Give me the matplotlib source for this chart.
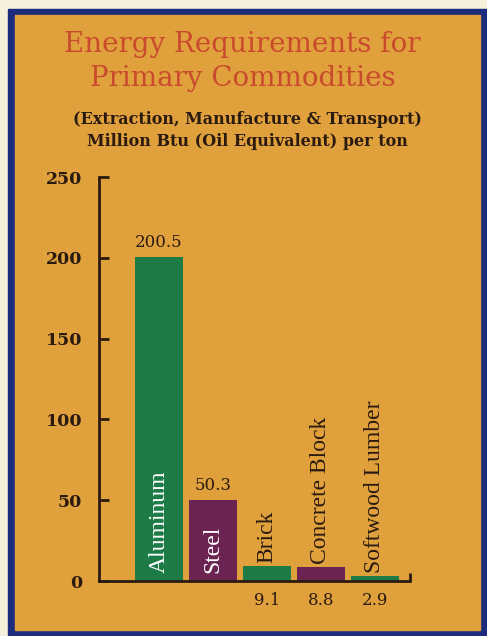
import matplotlib
matplotlib.use("Agg")
import matplotlib.pyplot as plt
from matplotlib.patches import Rectangle

# data
commodities = ["Aluminum", "Steel", "Brick", "Concrete Block", "Softwood Lumber"]
energy = [200.5, 50.3, 9.1, 8.8, 2.9]
bar_colors = ["#1d7b45", "#6b2352", "#1d7b45", "#6b2352", "#1d7b45"]
y_ticks = [0, 50, 100, 150, 200, 250]

ORANGE = "#e0a13c"
BLUE = "#1c2b7c"
CREAM = "#f4f0dc"
TITLE_RED = "#c94a2c"
INK = "#2a1a10"


def main():
    fig = plt.figure(figsize=(4.87, 6.36), dpi=100, facecolor=CREAM)
    W, H = 487, 636

    # blue frame and orange panel (pixel values converted to figure fractions)
    fig.patches.append(Rectangle((8 / W, 1 - 636 / H), 479 / W, 627 / H,
                                 transform=fig.transFigure, color=BLUE, zorder=-10))
    fig.patches.append(Rectangle((15 / W, 1 - 630 / H), 465 / W, 615 / H,
                                 transform=fig.transFigure, color=ORANGE, zorder=-9))

    fig.text(0.498, 1 - 44 / H, "Energy Requirements for", ha="center", va="center",
             fontsize=20, color=TITLE_RED, family="DejaVu Serif")
    fig.text(0.498, 1 - 79 / H, "Primary Commodities", ha="center", va="center",
             fontsize=20, color=TITLE_RED, family="DejaVu Serif")
    fig.text(0.508, 1 - 119 / H, "(Extraction, Manufacture & Transport)", ha="center",
             va="center", fontsize=11.5, color=INK, family="DejaVu Serif", weight="bold")
    fig.text(0.508, 1 - 141 / H, "Million Btu (Oil Equivalent) per ton", ha="center",
             va="center", fontsize=11.5, color=INK, family="DejaVu Serif", weight="bold")

    ax = fig.add_axes([99 / W, 1 - 581 / H, 311 / W, 404 / H])
    ax.set_facecolor("none")

    x = list(range(len(commodities)))
    ax.bar(x, energy, width=0.89, color=bar_colors, zorder=2)
    ax.set_xlim(-1.11, 311 / 54 - 1.11)
    ax.set_ylim(0, 250)

    for spine in ["top", "right"]:
        ax.spines[spine].set_visible(False)
    for spine in ["left", "bottom"]:
        ax.spines[spine].set_linewidth(2)
        ax.spines[spine].set_color(INK)
    ax.plot([1, 1], [0, 0.02], transform=ax.transAxes, color=INK, lw=2,
            clip_on=False, solid_capstyle="butt")

    ax.set_xticks([])
    ax.set_yticks(y_ticks)
    ax.tick_params(axis="y", direction="in", length=7, width=2, color=INK, pad=12,
                   labelsize=12.5, labelcolor=INK)
    for lab in ax.get_yticklabels():
        lab.set_family("DejaVu Serif")
        lab.set_weight("bold")

    for i, (name, val) in enumerate(zip(commodities, energy)):
        inside = val > 40
        ax.text(i, 5 if inside else val + 2, name, rotation=90, ha="center", va="bottom",
                color="white" if inside else INK, fontsize=17,
                family="Liberation Serif", zorder=3)
        if inside:
            ax.annotate(f"{val}", (i, val), xytext=(0, 4), textcoords="offset points",
                        ha="center", va="bottom", fontsize=12, color=INK,
                        family="DejaVu Serif")
        else:
            ax.annotate(f"{val}", (i, 0), xytext=(0, -14), textcoords="offset points",
                        ha="center", va="center", fontsize=12, color=INK,
                        family="DejaVu Serif", annotation_clip=False)

    fig.savefig("out.png", dpi=100, facecolor=fig.get_facecolor())


if __name__ == "__main__":
    main()
